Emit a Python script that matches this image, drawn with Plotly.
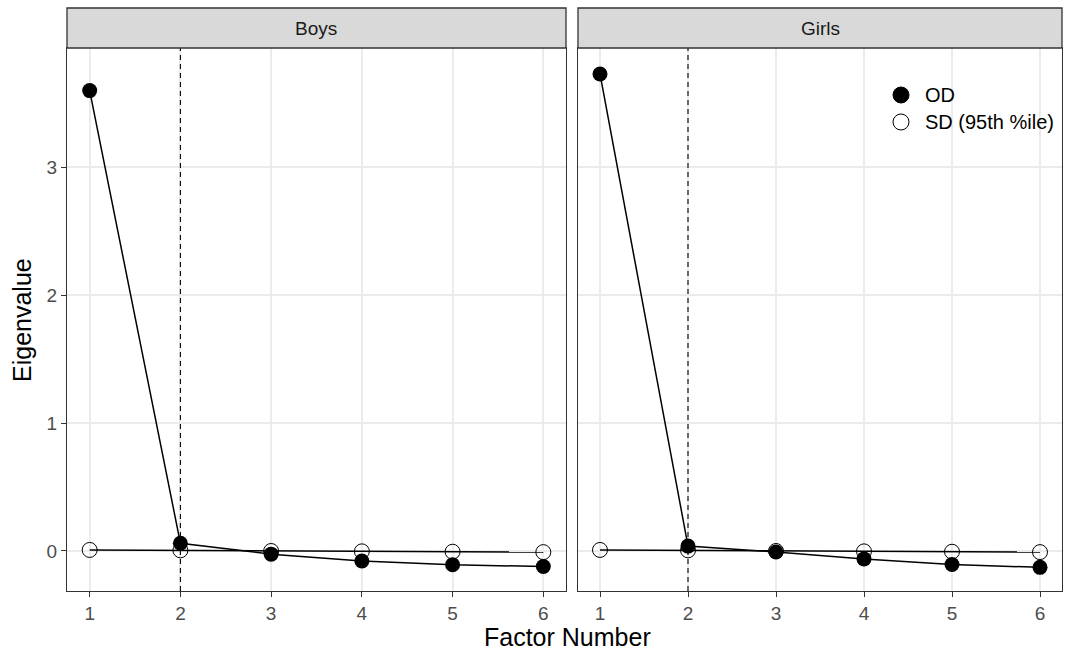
import plotly.graph_objects as go

factors = [1, 2, 3, 4, 5, 6]
panels = ["Boys", "Girls"]
boys_od = [3.60, 0.06, -0.025, -0.078, -0.108, -0.122]
boys_sd = [0.008, 0.005, 0.0, -0.003, -0.006, -0.009]
girls_od = [3.73, 0.038, -0.008, -0.062, -0.106, -0.128]
girls_sd = [0.008, 0.005, 0.0, -0.003, -0.006, -0.009]
cutoff = 2
y_ticks = [0, 1, 2, 3]
legend_labels = ["OD", "SD (95th %ile)"]

W, H = 1067, 657
def px(x): return x / W
def py(y): return (H - y) / H

FONT = "Liberation Sans, Arial, sans-serif"
fig = go.Figure()

dom_x = [[px(67), px(566)], [px(578), px(1062)]]
dom_y = [py(591), py(48)]

data = [(boys_od, boys_sd), (girls_od, girls_sd)]
for i, (od, sd) in enumerate(data):
    xa = "x" if i == 0 else "x2"
    ya = "y" if i == 0 else "y2"
    fig.add_trace(go.Scatter(x=factors, y=sd, mode="lines+markers", xaxis=xa, yaxis=ya,
                             line=dict(color="black", width=1.5),
                             marker=dict(symbol="circle-open", size=15, color="black", line=dict(width=1)),
                             showlegend=False, hoverinfo="skip"))
    fig.add_trace(go.Scatter(x=factors, y=od, mode="lines+markers", xaxis=xa, yaxis=ya,
                             line=dict(color="black", width=1.5),
                             marker=dict(symbol="circle", size=15, color="black"),
                             showlegend=False, hoverinfo="skip"))
    fig.add_shape(type="line", xref=xa, yref=f"{ya} domain", x0=cutoff, x1=cutoff, y0=0, y1=1,
                  line=dict(color="black", width=1.1, dash="5px,4px"))

axis_common = dict(showline=True, linecolor="#333333", linewidth=1.3, mirror=True,
                   showgrid=True, gridcolor="#EBEBEB", gridwidth=1.6, zeroline=False,
                   ticklen=5, tickcolor="#333333", tickwidth=1.3,
                   tickfont=dict(family=FONT, size=19, color="#4D4D4D"))

fig.update_layout(
    width=W, height=H, margin=dict(l=0, r=0, t=0, b=0),
    paper_bgcolor="white", plot_bgcolor="white", showlegend=False,
    xaxis=dict(domain=dom_x[0], range=[0.75, 6.25], tickvals=factors, anchor="y", ticks="outside", **axis_common),
    xaxis2=dict(domain=dom_x[1], range=[0.75, 6.25], tickvals=factors, anchor="y2", ticks="outside", **axis_common),
    yaxis=dict(domain=dom_y, range=[-0.313, 3.933], tickvals=y_ticks, anchor="x", ticks="outside", **axis_common),
    yaxis2=dict(domain=dom_y, range=[-0.313, 3.933], tickvals=y_ticks, anchor="x2", ticks="",
                showticklabels=False, **axis_common),
)

# strips
for i, name in enumerate(panels):
    x0, x1 = dom_x[i]
    fig.add_shape(type="rect", xref="paper", yref="paper", x0=x0, x1=x1, y0=py(48), y1=py(8),
                  fillcolor="#D9D9D9", line=dict(color="#333333", width=1.3), layer="above")
    fig.add_annotation(x=(x0 + x1) / 2, y=py(28), xref="paper", yref="paper", text=name,
                       showarrow=False, font=dict(family=FONT, size=19, color="#1A1A1A"),
                       xanchor="center", yanchor="middle")

# legend (drawn)
leg_y = [95, 122]
for j, lab in enumerate(legend_labels):
    cy = leg_y[j]
    r = 8
    fig.add_shape(type="circle", xref="paper", yref="paper",
                  x0=px(901 - r), x1=px(901 + r), y0=py(cy + r), y1=py(cy - r),
                  fillcolor="black" if j == 0 else "white", line=dict(color="black", width=1))
    fig.add_annotation(x=px(923), y=py(cy), xref="paper", yref="paper", text=lab, showarrow=False,
                       font=dict(family=FONT, size=20, color="black"), xanchor="left", yanchor="middle")

fig.add_annotation(x=px(567), y=py(637), xref="paper", yref="paper", text="Factor Number",
                   showarrow=False, font=dict(family=FONT, size=25, color="black"),
                   xanchor="center", yanchor="middle")
fig.add_annotation(x=px(22), y=py(320), xref="paper", yref="paper", text="Eigenvalue", textangle=-90,
                   showarrow=False, font=dict(family=FONT, size=25, color="black"),
                   xanchor="center", yanchor="middle")

fig.write_html("out.html")
